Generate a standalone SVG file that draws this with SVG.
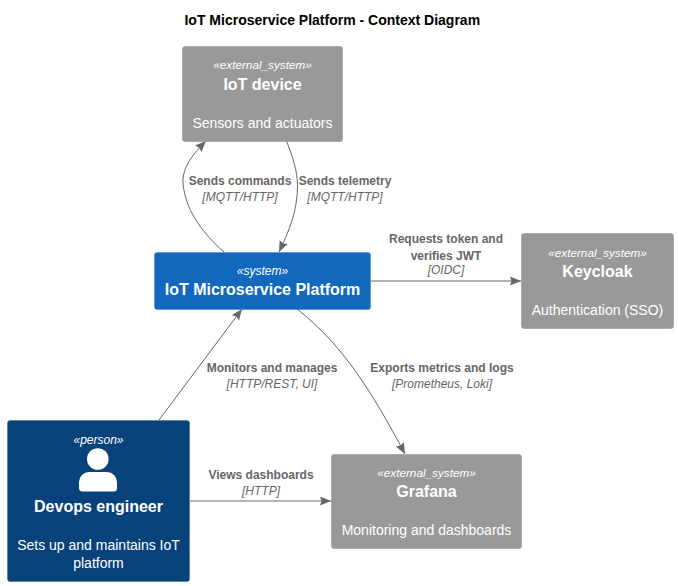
<svg xmlns="http://www.w3.org/2000/svg" width="678" height="586" viewBox="0 0 678 586">
<style>
text{font-family:"Liberation Sans",Arial,sans-serif;text-anchor:middle}
.st{font-size:12px;font-style:italic;fill:#fff}
.sx{font-size:11.750px;font-style:italic;fill:#fff}
.nm{font-size:16px;font-weight:bold;fill:#fff}
.ds{font-size:14px;fill:#fff}
.lb{font-size:12px;font-weight:bold;fill:#666}
.pr{font-size:12px;font-style:italic;fill:#666}
.ext{fill:#999;stroke:#8a8a8a;stroke-width:.5}
.con{fill:none;stroke:#666;stroke-width:1;marker-end:url(#a)}
</style>
<defs><marker id="a" markerUnits="userSpaceOnUse" markerWidth="12" markerHeight="10" refX="11" refY="4.500" orient="auto"><path d="M0 0L11 4.500 0 9 1.500 4.500Z" fill="#666"/></marker></defs>
<rect width="678" height="586" fill="#fff"/>
<text x="332.300" y="25" font-size="14" font-weight="bold" fill="#000">IoT Microservice Platform - Context Diagram</text>
<g id="connectors">
<path class="con" d="M224 252C200 231 185 208 183 183C182 167 194 153 206 141"/>
<path class="con" d="M286 140C293 157 297.500 172 297.500 186C297.500 211 289 231 279 252"/>
<path class="con" d="M371 281H521"/>
<path class="con" d="M159 420L242 309"/>
<path class="con" d="M297 309C343 345 372 392 405 454"/>
<path class="con" d="M190 501H331"/>
</g>
<g id="labels">
<text class="lb" x="240" y="185">Sends commands</text><text class="pr" x="240" y="201">[MQTT/HTTP]</text>
<text class="lb" x="345" y="185">Sends telemetry</text><text class="pr" x="345" y="201">[MQTT/HTTP]</text>
<text class="lb" x="446" y="243">Requests token and</text><text class="lb" x="446" y="259.500">verifies JWT</text><text class="pr" x="446" y="274">[OIDC]</text>
<text class="lb" x="272" y="372">Monitors and manages</text><text class="pr" x="272" y="388">[HTTP/REST, UI]</text>
<text class="lb" x="442" y="372">Exports metrics and logs</text><text class="pr" x="442" y="388">[Prometheus, Loki]</text>
<text class="lb" x="261" y="479">Views dashboards</text><text class="pr" x="261" y="495">[HTTP]</text>
</g>
<g id="iot-device"><rect class="ext" x="182.500" y="46.500" width="160" height="95" rx="2.500"/><text class="sx" x="262.500" y="69">«external_system»</text><text class="nm" x="262.500" y="90">IoT device</text><text class="ds" x="262.500" y="128">Sensors and actuators</text></g>
<g id="platform"><rect x="154.500" y="252.500" width="216" height="57" rx="2.500" fill="#1168bd" stroke="#3c7fc0" stroke-width=".5"/><text class="st" x="262.500" y="275">«system»</text><text class="nm" x="262.500" y="295">IoT Microservice Platform</text></g>
<g id="keycloak"><rect class="ext" x="521.500" y="233.500" width="152" height="95" rx="2.500"/><text class="sx" x="597.500" y="257">«external_system»</text><text class="nm" x="597.500" y="277">Keycloak</text><text class="ds" x="597.500" y="315">Authentication (SSO)</text></g>
<g id="grafana"><rect class="ext" x="331.500" y="454.500" width="190" height="94" rx="2.500"/><text class="sx" x="426.500" y="477">«external_system»</text><text class="nm" x="426.500" y="497">Grafana</text><text class="ds" x="426.500" y="535">Monitoring and dashboards</text></g>
<g id="devops"><rect x="7.500" y="420.500" width="182" height="161" rx="2.500" fill="#08427b" stroke="#3a6a98" stroke-width=".5"/><text class="st" x="98.500" y="444">«person»</text><circle cx="97.800" cy="459" r="10.800" fill="#fff"/><path d="M79 488V482A10 10 0 0 1 89 472H107A10 10 0 0 1 117 482V488A3.500 3.500 0 0 1 113.500 491.500H82.500A3.500 3.500 0 0 1 79 488Z" fill="#fff"/><text class="nm" x="98.500" y="512">Devops engineer</text><text class="ds" x="98.500" y="550">Sets up and maintains IoT</text><text class="ds" x="98.500" y="568">platform</text></g>
</svg>
